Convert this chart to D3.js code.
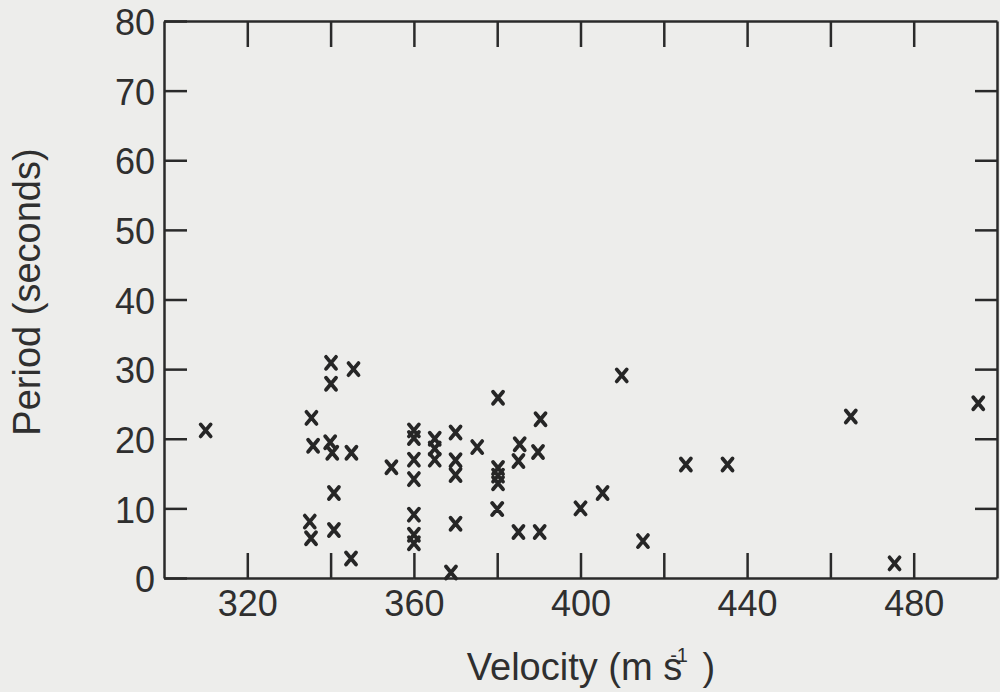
<!DOCTYPE html>
<html>
<head>
<meta charset="utf-8">
<script src="https://cdn.jsdelivr.net/npm/d3@7"></script>
<style>
  body { margin: 0; background: #ededeb; }
  svg { display: block; }
  .axis text { font-family: "Liberation Sans", Arial, Helvetica, sans-serif; font-size: 36px; fill: #2f2f2f; }
  .axis path, .axis line { stroke: #2a2a2a; stroke-width: 2.5; }
  .title { font-family: "Liberation Sans", Arial, Helvetica, sans-serif; fill: #2f2f2f; }
</style>
</head>
<body>
<div id="chart"></div>
<script>
var velocity = [310,
    335.4, 335.8, 335.0, 335.3,
    340.1, 340.1, 339.9, 340.4, 340.8, 340.8,
    345.5, 345.0, 344.9,
    354.6,
    360, 360, 360, 360, 360, 360, 360,
    365, 365, 365,
    370, 370, 370, 370, 368.9,
    375.2,
    380.2, 380.2, 380.2, 380.2, 380,
    385.4, 385.1, 385.1,
    390.4, 389.8, 390.2,
    400, 405.3, 409.9, 415, 425.3, 435.3, 464.9, 475.4, 495.5];
var period = [21.2,
    23.0, 19.0, 8.1, 5.7,
    30.9, 27.9, 19.5, 18.0, 12.2, 6.9,
    30.0, 18.0, 2.8,
    15.9,
    21.2, 20.1, 17.0, 14.2, 9.1, 6.2, 5.0,
    20.0, 18.6, 17.0,
    20.9, 16.9, 14.8, 7.8, 0.8,
    18.8,
    25.9, 15.8, 14.7, 13.6, 9.9,
    19.2, 16.8, 6.6,
    22.8, 18.1, 6.6,
    10.0, 12.2, 29.1, 5.3, 16.3, 16.3, 23.2, 2.1, 25.1];

var xTicks = [320, 340, 360, 380, 400, 420, 440, 460, 480];
var xLabels = [320, 360, 400, 440, 480];
var yTicks = [0, 10, 20, 30, 40, 50, 60, 70, 80];

var width = 1000, height = 692;
var plotLeft = 164, plotRight = 997, plotTop = 21, plotBottom = 578;

var svg = d3.select("#chart").append("svg")
    .attr("width", width)
    .attr("height", height);

svg.append("rect")
    .attr("width", width)
    .attr("height", height)
    .attr("fill", "#ededeb");

var x = d3.scaleLinear().domain([300, 500]).range([plotLeft, plotRight]);
var y = d3.scaleLinear().domain([0, 80]).range([plotBottom, plotTop]);

// bottom axis, ticks pointing into the plot
svg.append("g")
    .attr("class", "axis")
    .attr("transform", "translate(0," + plotBottom + ")")
    .call(d3.axisBottom(x)
        .tickValues(xTicks)
        .tickSizeInner(-25)
        .tickSizeOuter(0)
        .tickPadding(12)
        .tickFormat(function(d) { return xLabels.indexOf(d) >= 0 ? d : ""; }));

// top axis, no labels
svg.append("g")
    .attr("class", "axis")
    .attr("transform", "translate(0," + plotTop + ")")
    .call(d3.axisTop(x)
        .tickValues(xTicks)
        .tickSizeInner(-26)
        .tickSizeOuter(0)
        .tickFormat(""));

// left axis
svg.append("g")
    .attr("class", "axis y-left")
    .attr("transform", "translate(" + plotLeft + ",0)")
    .call(d3.axisLeft(y)
        .tickValues(yTicks)
        .tickSizeInner(-23)
        .tickSizeOuter(0)
        .tickPadding(9));

svg.selectAll(".y-left .tick text").attr("dy", "0.38em");

// right axis, no labels
svg.append("g")
    .attr("class", "axis")
    .attr("transform", "translate(" + plotRight + ",0)")
    .call(d3.axisRight(y)
        .tickValues(yTicks.slice(1, -1))
        .tickSizeInner(-22)
        .tickSizeOuter(0)
        .tickFormat(""));

// x markers
svg.append("g").selectAll("path")
    .data(velocity)
    .enter().append("path")
    .attr("transform", function(d, i) { return "translate(" + x(d) + "," + y(period[i]) + ")"; })
    .attr("d", "M-5,-6L5,6M5,-6L-5,6")
    .attr("stroke", "#262626")
    .attr("stroke-width", 3.8)
    .attr("stroke-linecap", "round")
    .attr("fill", "none");

// axis titles
var xt = svg.append("text")
    .attr("class", "title")
    .attr("x", 591)
    .attr("y", 680)
    .attr("text-anchor", "middle")
    .style("font-size", "38px");
xt.append("tspan").text("Velocity (m s");
xt.append("tspan").attr("dx", -12).attr("dy", -18).style("font-size", "20px").text("-1");
xt.append("tspan").attr("dx", 4).attr("dy", 18).text(" )");

svg.append("text")
    .attr("class", "title")
    .attr("transform", "translate(40,292) rotate(-90)")
    .attr("text-anchor", "middle")
    .style("font-size", "38px")
    .text("Period (seconds)");
</script>
</body>
</html>
